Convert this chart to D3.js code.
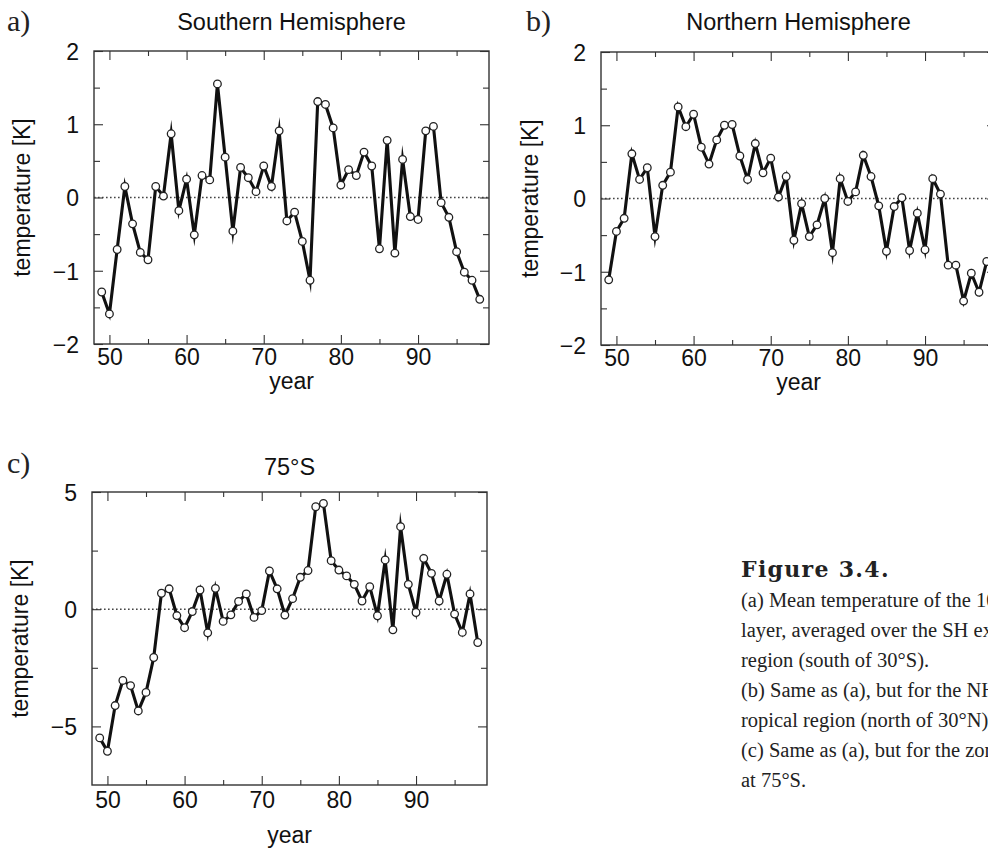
<!DOCTYPE html>
<html>
<head>
<meta charset="utf-8">
<script src="https://cdn.jsdelivr.net/npm/d3@7"></script>
<style>
  html, body { margin: 0; padding: 0; background: #fff; }
  svg { display: block; overflow: hidden; }
  .sans { font-family: "Liberation Sans", Arial, Helvetica, sans-serif; }
  .serif { font-family: "Liberation Serif", "DejaVu Serif", serif; }
</style>
</head>
<body>
<svg id="chart" width="988" height="855"></svg>
<script>
// ---------------- data ----------------
const years = d3.range(49, 99); // 1949 .. 1998
const shValues = [
  -1.29, -1.59, -0.71, 0.15, -0.36, -0.75, -0.85, 0.15, 0.02, 0.87,
  -0.18, 0.25, -0.51, 0.30, 0.24, 1.55, 0.55, -0.46, 0.41, 0.27,
  0.08, 0.43, 0.15, 0.91, -0.32, -0.20, -0.60, -1.13, 1.31, 1.27,
  0.95, 0.17, 0.38, 0.30, 0.62, 0.43, -0.70, 0.78, -0.76, 0.52,
  -0.26, -0.30, 0.91, 0.97, -0.07, -0.27, -0.74, -1.02, -1.13, -1.39
];
const nhValues = [
  -1.11, -0.45, -0.27, 0.61, 0.26, 0.42, -0.52, 0.18, 0.36, 1.25,
  0.98, 1.15, 0.70, 0.47, 0.80, 1.00, 1.01, 0.58, 0.26, 0.75,
  0.35, 0.55, 0.02, 0.30, -0.57, -0.07, -0.52, -0.36, 0.00, -0.74,
  0.27, -0.04, 0.09, 0.59, 0.30, -0.10, -0.72, -0.11, 0.01, -0.71,
  -0.20, -0.70, 0.27, 0.06, -0.91, -0.91, -1.40, -1.02, -1.28, -0.86
];
const s75Values = [
  -5.49, -6.06, -4.11, -3.04, -3.26, -4.34, -3.55, -2.06, 0.68, 0.87,
  -0.27, -0.79, -0.10, 0.82, -1.01, 0.89, -0.52, -0.24, 0.33, 0.65,
  -0.35, -0.06, 1.63, 0.87, -0.25, 0.45, 1.36, 1.65, 4.37, 4.51,
  2.07, 1.67, 1.42, 1.06, 0.35, 0.96, -0.28, 2.10, -0.88, 3.52,
  1.06, -0.14, 2.17, 1.53, 0.35, 1.49, -0.21, -0.99, 0.65, -1.42
];
const xTickLabels = [50, 60, 70, 80, 90];
const xMinorTicks = [55, 65, 75, 85, 95];
const yTickLabelsHemi = [-2, -1, 0, 1, 2];
const yMinorHemi = [-1.5, -0.5, 0.5, 1.5];
const yTickLabels75 = [-5, 0, 5];
const yMinor75 = [-2.5, 2.5];
const panelTitles = ["Southern Hemisphere", "Northern Hemisphere", "75°S"];
const panelLetters = ["a)", "b)", "c)"];
const xAxisTitle = "year";
const yAxisTitle = "temperature [K]";
const captionTitle = "Figure 3.4.";
const captionLines = [
  "(a) Mean temperature of the 100 hPa",
  "layer, averaged over the SH extratropical",
  "region (south of 30°S).",
  "(b) Same as (a), but for the NH extrat-",
  "ropical region (north of 30°N).",
  "(c) Same as (a), but for the zonal mean",
  "at 75°S."
];

// ---------------- drawing ----------------
const svg = d3.select("#chart");
const FS = 23;

function panel(opts) {
  const { left, top, width, height, yDomain, yMajor, yMinor, values, title, letter, letterX, letterY,
          titleY, yTitleX, xLabelPad, yearOffset } = opts;
  const g = svg.append("g");
  const x = d3.scaleLinear().domain([48, 99.2]).range([left, left + width]);
  const y = d3.scaleLinear().domain(yDomain).range([top + height, top]);
  const fmt = d3.format("d");

  // zero dotted line
  g.append("line")
    .attr("x1", left).attr("x2", left + width)
    .attr("y1", y(0)).attr("y2", y(0))
    .attr("stroke", "#444").attr("stroke-width", 1.4)
    .attr("stroke-dasharray", "1.6,2.4");

  // tick marks (inward) on all four sides
  const tickStyle = sel => {
    sel.select(".domain").remove();
    sel.selectAll(".tick line").attr("stroke", "#333").attr("stroke-width", 1.1);
    sel.selectAll(".tick text").remove();
  };
  g.append("g").attr("transform", `translate(0,${top + height})`)
    .call(d3.axisBottom(x).tickValues(xTickLabels).tickSize(-9)).call(tickStyle);
  g.append("g").attr("transform", `translate(0,${top + height})`)
    .call(d3.axisBottom(x).tickValues(xMinorTicks).tickSize(-5)).call(tickStyle);
  g.append("g").attr("transform", `translate(0,${top})`)
    .call(d3.axisTop(x).tickValues(xTickLabels).tickSize(-9)).call(tickStyle);
  g.append("g").attr("transform", `translate(0,${top})`)
    .call(d3.axisTop(x).tickValues(xMinorTicks).tickSize(-5)).call(tickStyle);
  g.append("g").attr("transform", `translate(${left},0)`)
    .call(d3.axisLeft(y).tickValues(yMajor).tickSize(-9)).call(tickStyle);
  g.append("g").attr("transform", `translate(${left},0)`)
    .call(d3.axisLeft(y).tickValues(yMinor).tickSize(-6)).call(tickStyle);
  g.append("g").attr("transform", `translate(${left + width},0)`)
    .call(d3.axisRight(y).tickValues(yMajor).tickSize(-9)).call(tickStyle);
  g.append("g").attr("transform", `translate(${left + width},0)`)
    .call(d3.axisRight(y).tickValues(yMinor).tickSize(-6)).call(tickStyle);

  // frame
  g.append("rect")
    .attr("x", left).attr("y", top).attr("width", width).attr("height", height)
    .attr("fill", "none").attr("stroke", "#333").attr("stroke-width", 1.4);

  // tick labels
  const xl = g.append("g").attr("transform", `translate(0,${top + height})`)
    .call(d3.axisBottom(x).tickValues(xTickLabels).tickSize(0).tickPadding(xLabelPad).tickFormat(fmt));
  xl.select(".domain").remove();
  xl.selectAll("text").attr("class", "sans").attr("font-size", FS).attr("fill", "#111")
    .attr("dy", null);
  xl.attr("font-family", null).attr("font-size", null);
  const yl = g.append("g").attr("transform", `translate(${left},0)`)
    .call(d3.axisLeft(y).tickValues(yMajor).tickSize(0).tickPadding(15).tickFormat(fmt));
  yl.select(".domain").remove();
  yl.selectAll("text").attr("class", "sans").attr("font-size", FS).attr("fill", "#111")
    .attr("dy", "0.36em");
  yl.attr("font-family", null).attr("font-size", null);

  // axis titles
  g.append("text").attr("class", "sans")
    .attr("x", left + width / 2).attr("y", top + height + yearOffset)
    .attr("text-anchor", "middle").attr("font-size", FS).attr("fill", "#111")
    .text(xAxisTitle);
  g.append("text").attr("class", "sans")
    .attr("transform", `translate(${yTitleX},${top + height / 2}) rotate(-90)`)
    .attr("text-anchor", "middle").attr("font-size", FS).attr("fill", "#111")
    .text(yAxisTitle);

  // title and letter
  g.append("text").attr("class", "sans")
    .attr("x", left + width / 2).attr("y", titleY)
    .attr("text-anchor", "middle").attr("font-size", 23.5).attr("fill", "#111")
    .text(title);
  g.append("text").attr("class", "serif")
    .attr("x", letterX).attr("y", letterY)
    .attr("font-size", 30).attr("fill", "#222")
    .text(letter);

  // data line
  const pts = years.map((yr, i) => [yr, values[i]]);
  const line = d3.line().x(d => x(d[0])).y(d => y(d[1]));
  g.append("path").datum(pts)
    .attr("d", line)
    .attr("fill", "none").attr("stroke", "#111").attr("stroke-width", 3.1)
    .attr("stroke-linejoin", "miter").attr("stroke-miterlimit", 10);
  g.append("g").selectAll("circle").data(pts).join("circle")
    .attr("cx", d => x(d[0])).attr("cy", d => y(d[1])).attr("r", 3.8)
    .attr("fill", "#fff").attr("stroke", "#222").attr("stroke-width", 1.3);
}

panel({ left: 94, top: 51, width: 395, height: 293, yDomain: [-2, 2], yMajor: yTickLabelsHemi, yMinor: yMinorHemi,
        values: shValues, title: panelTitles[0], letter: panelLetters[0], letterX: 7, letterY: 31, titleY: 30,
        yTitleX: 30, xLabelPad: 21, yearOffset: 45 });
panel({ left: 601, top: 52, width: 395, height: 293, yDomain: [-2, 2], yMajor: yTickLabelsHemi, yMinor: yMinorHemi,
        values: nhValues, title: panelTitles[1], letter: panelLetters[1], letterX: 526, letterY: 31, titleY: 30,
        yTitleX: 538, xLabelPad: 21, yearOffset: 45 });
panel({ left: 92, top: 492, width: 395, height: 293, yDomain: [-7.5, 5], yMajor: yTickLabels75, yMinor: yMinor75,
        values: s75Values, title: panelTitles[2], letter: panelLetters[2], letterX: 7, letterY: 473, titleY: 475,
        yTitleX: 28, xLabelPad: 23, yearOffset: 58 });

// caption
const cap = svg.append("g").attr("fill", "#222");
cap.append("text").attr("x", 741).attr("y", 577)
  .attr("font-family", "'DejaVu Serif', serif")
  .attr("font-size", 22).attr("font-weight", "bold").attr("letter-spacing", 1.3).text(captionTitle);
cap.selectAll("text.line").data(captionLines).join("text").attr("class", "line serif")
  .attr("x", 741).attr("y", (d, i) => 607 + i * 30)
  .attr("font-size", 20.5).text(d => d);
</script>
</body>
</html>
